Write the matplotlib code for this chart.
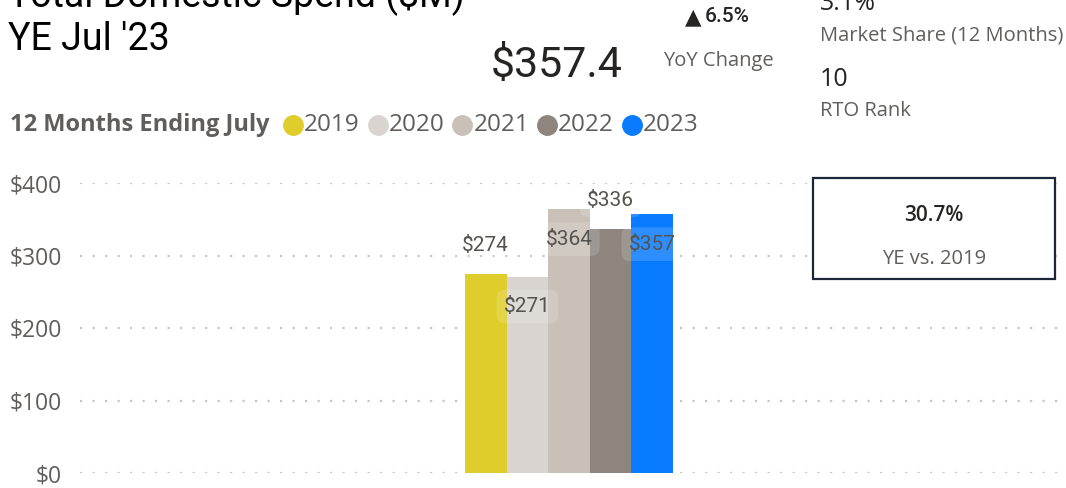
import matplotlib
matplotlib.use("Agg")
import matplotlib.pyplot as plt
from matplotlib.patches import Rectangle
from matplotlib.lines import Line2D

# ------------------------------------------------------------------ #
# data
# ------------------------------------------------------------------ #
YEARS = ["2019", "2020", "2021", "2022", "2023"]
SPEND = [274, 271, 364, 336, 357]
COLORS = ["#DFCD2B", "#D9D4CF", "#C9C1B8", "#8D857E", "#087BFF"]
LABEL_INSIDE = [False, True, True, False, True]
Y_TICKS = [0, 100, 200, 300, 400]

TITLE_LINES = ["Total Domestic Spend ($M)", "YE Jul '23"]
HEADLINE = "$357.4"
YOY = "6.5%"
MARKET_SHARE = "3.1%"
RTO_RANK = "10"
VS_2019 = "30.7%"

W, H = 1066, 488
GRAY = "#605E5C"
DARK = "#252423"
SEGOE = ["Open Sans", "DejaVu Sans"]
DIN = ["Roboto", "DejaVu Sans"]

plt.rcParams["lines.scale_dashes"] = False


def px(x, y):
    """pixel coords (from top-left) -> figure fraction"""
    return x / W, 1 - y / H


fig = plt.figure(figsize=(W / 100, H / 100), dpi=100)

# ------------------------------------------------------------------ #
# bar chart
# ------------------------------------------------------------------ #
ax = fig.add_axes([80 / W, (H - 473) / H, (1062 - 80) / W, 290 / H])
xs = [i - (len(YEARS) - 1) / 2 for i in range(len(YEARS))]
ax.bar(xs, SPEND, width=1.0, color=COLORS, zorder=2)
ax.set_xlim(-11.75, 11.85)
ax.set_ylim(0, 400)
ax.set_yticks(Y_TICKS)
ax.set_yticklabels([f"${v}" for v in Y_TICKS], family=SEGOE, fontsize=16.5,
                   color=GRAY)
ax.tick_params(axis="y", length=0, pad=13)
ax.set_xticks([])
for s in ax.spines.values():
    s.set_visible(False)
ax.grid(axis="y", color="#C8C6C4", linestyle=(0, (1.6, 7.4)), linewidth=1.6,
        zorder=0)

for x, v, inside in zip(xs, SPEND, LABEL_INSIDE):
    off = -30 if inside else 29
    ax.annotate(f"${v}", (x, v), xytext=(0, off), textcoords="offset pixels",
                ha="center", va="center", family=DIN, fontsize=15,
                color="#55534F", zorder=4,
                bbox=dict(boxstyle="round,pad=0.35,rounding_size=0.4",
                          fc="white", ec="none", alpha=0.15))

# ------------------------------------------------------------------ #
# header texts
# ------------------------------------------------------------------ #
fig.text(*px(8, 7), TITLE_LINES[0], family=DIN, fontsize=27, color="black",
         va="baseline")
fig.text(*px(8, 50), TITLE_LINES[1], family=DIN, fontsize=27, color="black",
         va="baseline")

fig.text(*px(557, 77), HEADLINE, family=DIN, fontsize=31, color=DARK,
         ha="center", va="baseline")
fig.text(*px(685, 17), "\u25B2", family=["DejaVu Sans"], fontsize=15.5,
         color=DARK, va="center")
fig.text(*px(705, 17), YOY, family=DIN, fontsize=15, color=DARK,
         va="center", fontweight="medium")
fig.text(*px(718, 61), "YoY Change", family=SEGOE, fontsize=14.5, color=GRAY,
         ha="center", va="center")

fig.text(*px(820, 4), MARKET_SHARE, family=SEGOE, fontsize=18, color=DARK,
         va="center")
fig.text(*px(820, 36), "Market Share (12 Months)", family=SEGOE,
         fontsize=14.5, color=GRAY, va="center")
fig.text(*px(820, 80), RTO_RANK, family=SEGOE, fontsize=18, color=DARK,
         va="center")
fig.text(*px(820, 111), "RTO Rank", family=SEGOE, fontsize=14.5, color=GRAY,
         va="center")

# ------------------------------------------------------------------ #
# legend row
# ------------------------------------------------------------------ #
renderer = fig.canvas.get_renderer()
fig.text(*px(10, 125), "12 Months Ending July", family=SEGOE,
         fontsize=17, color=GRAY, fontweight="bold", va="center")
x_cur = 283
for year, col in zip(YEARS, COLORS):
    cx = x_cur + 10
    fig.add_artist(Line2D([cx / W], [1 - 125 / H], marker="o",
                          markersize=14, color=col, linestyle="none",
                          transform=fig.transFigure))
    lt = fig.text(*px(cx + 11, 125), year, family=SEGOE, fontsize=17.5,
                  color=GRAY, va="center")
    bb = lt.get_window_extent(renderer)
    x_cur = bb.x1 + 8

# ------------------------------------------------------------------ #
# comparison card
# ------------------------------------------------------------------ #
x0, y0 = px(813, 279)
fig.add_artist(Rectangle((x0, y0), 242 / W, 101 / H,
                         transform=fig.transFigure, facecolor="white",
                         edgecolor="#1B2638", linewidth=1.6, zorder=5))
fig.text(*px(934, 215), VS_2019, family=SEGOE, fontsize=15, color=DARK,
         ha="center", va="center", fontweight="semibold", zorder=6)
fig.text(*px(934, 259), "YE vs. 2019", family=SEGOE, fontsize=14.5,
         color=GRAY, ha="center", va="center", zorder=6)

fig.savefig("out.png", dpi=100)
